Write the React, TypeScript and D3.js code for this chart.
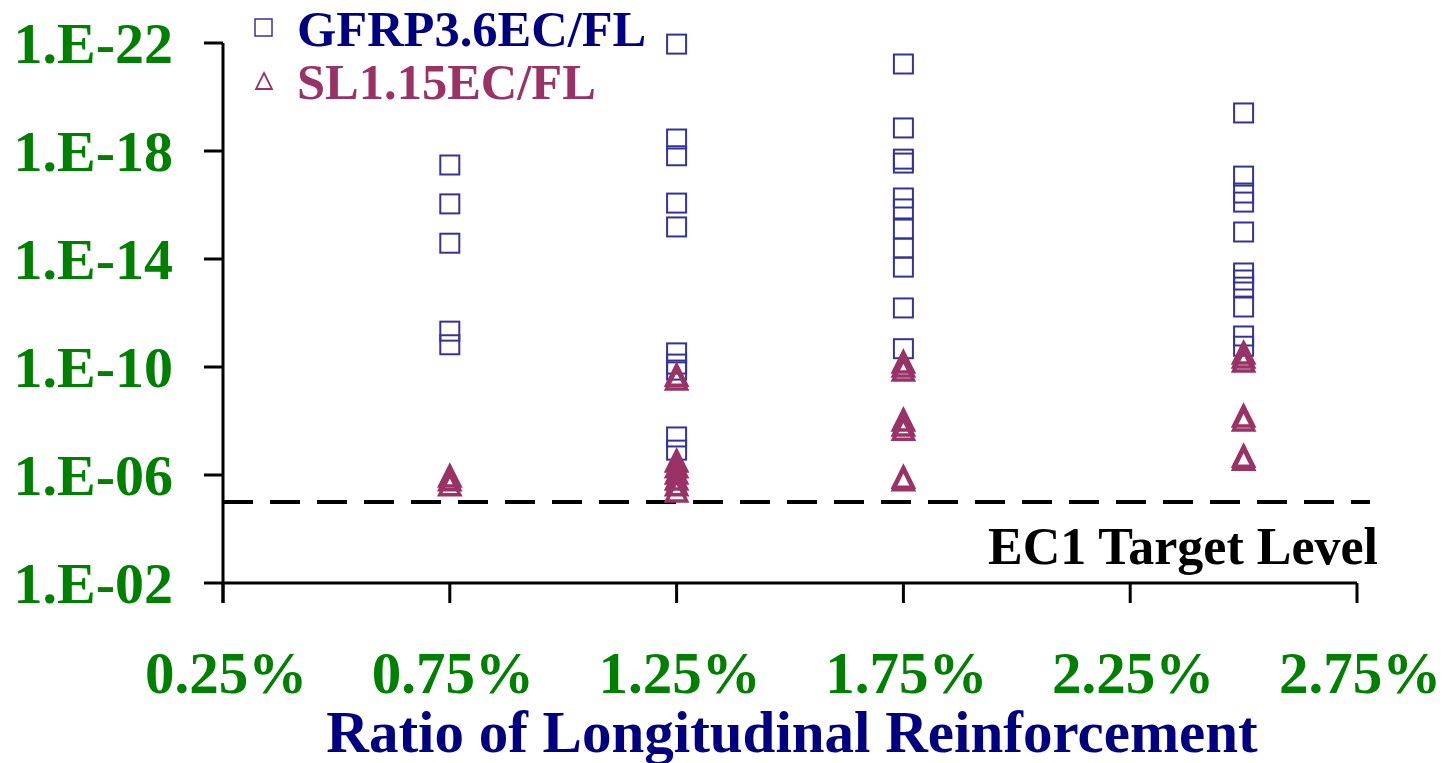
import React from "react";
import * as d3 from "d3";

const xTicks = [0.0025, 0.0075, 0.0125, 0.0175, 0.0225, 0.0275];
const yTicks = [1e-2, 1e-6, 1e-10, 1e-14, 1e-18, 1e-22];
const yTickLabels = ["1.E-02", "1.E-06", "1.E-10", "1.E-14", "1.E-18", "1.E-22"];
const targetLevel = 1e-5;

const gfrpX = [
  0.0075, 0.0075, 0.0075, 0.0075, 0.0075,
  0.0125, 0.0125, 0.0125, 0.0125, 0.0125, 0.0125, 0.0125, 0.0125, 0.0125, 0.0125,
  0.0175, 0.0175, 0.0175, 0.0175, 0.0175, 0.0175, 0.0175, 0.0175, 0.0175, 0.0175, 0.0175,
  0.025, 0.025, 0.025, 0.025, 0.025, 0.025, 0.025, 0.025, 0.025, 0.025, 0.025,
];
const gfrpY = [
  3.3e-18, 9.1e-17, 2.6e-15, 4.7e-12, 1.5e-11,
  1.1e-22, 3.6e-19, 1.5e-18, 8.5e-17, 6.5e-16, 3.0e-11, 7.8e-11, 1.3e-10, 3.9e-8, 1.2e-7,
  6.0e-22, 1.4e-19, 2.0e-18, 2.8e-18, 5.5e-17, 1.4e-16, 7.8e-16, 3.9e-15, 2.0e-14, 6.5e-13, 2.1e-11,
  3.9e-20, 8.5e-18, 3.6e-17, 7.8e-17, 1.0e-15, 3.3e-14, 6.0e-14, 1.1e-13, 6.0e-13, 7.1e-12, 1.7e-11,
];

const slX = [
  0.0075, 0.0075, 0.0075,
  0.0125, 0.0125, 0.0125, 0.0125, 0.0125, 0.0125, 0.0125, 0.0125,
  0.0175, 0.0175, 0.0175, 0.0175, 0.0175, 0.0175, 0.0175, 0.0175,
  0.025, 0.025, 0.025, 0.025, 0.025, 0.025, 0.025,
];
const slY = [
  1.1e-6, 1.5e-6, 2.3e-6,
  2.0e-10, 2.8e-10, 3.0e-7, 5.0e-7, 8.5e-7, 1.4e-6, 2.3e-6, 3.9e-6,
  6.5e-11, 9.1e-11, 1.3e-10, 9.1e-9, 1.4e-8, 2.0e-8, 1.2e-6, 1.5e-6,
  3.0e-11, 4.3e-11, 6.0e-11, 6.5e-9, 9.1e-9, 2.0e-7, 2.6e-7,
];

const seriesNames = ["GFRP3.6EC/FL", "SL1.15EC/FL"];
const xTitle = "Ratio of Longitudinal Reinforcement";
const targetLabel = "EC1 Target Level";

const W = 1445;
const H = 763;
const FONT = "'Liberation Serif', 'Times New Roman', serif";
const GREEN = "#008000";
const NAVY = "#000080";
const SQ = "#333399";
const TRI = "#993366";

const x = d3.scaleLinear().domain([0.0025, 0.0275]).range([223, 1357]);
const y = d3.scaleLog().domain([1e-2, 1e-22]).range([583, 43]);

const triPath = (r: number) => `M0,${-r} L${r},${r} L${-r},${r} Z`;

export default function App() {
  return (
    <svg
      width={W}
      height={H}
      style={{ position: "absolute", left: 0, top: 0, background: "#fff" }}
      fontFamily={FONT}
    >
      {/* target dashed line */}
      <line
        x1={x(0.0025)}
        x2={1370}
        y1={y(targetLevel)}
        y2={y(targetLevel)}
        stroke="#000"
        strokeWidth={4}
        strokeDasharray="30,17"
      />
      {/* axes */}
      <line x1={x(0.0025)} x2={x(0.0025)} y1={y(1e-22)} y2={y(1e-2) + 20} stroke="#000" strokeWidth={3} />
      <line x1={x(0.0025)} x2={x(0.0275)} y1={y(1e-2)} y2={y(1e-2)} stroke="#000" strokeWidth={3} />
      {yTicks.map((t, i) => (
        <g key={"y" + i}>
          <line x1={x(0.0025) - 19} x2={x(0.0025)} y1={y(t)} y2={y(t)} stroke="#000" strokeWidth={3} />
          <text
            x={173}
            y={y(t)}
            dy="0.35em"
            textAnchor="end"
            fill={GREEN}
            fontWeight="bold"
            fontSize={58}
          >
            {yTickLabels[i]}
          </text>
        </g>
      ))}
      {xTicks.map((t, i) => (
        <g key={"x" + i}>
          <line x1={x(t)} x2={x(t)} y1={y(1e-2)} y2={y(1e-2) + 20} stroke="#000" strokeWidth={3} />
          <text
            x={x(t) + 3}
            y={693}
            textAnchor="middle"
            fill={GREEN}
            fontWeight="bold"
            fontSize={59}
          >
            {d3.format(".2%")(t)}
          </text>
        </g>
      ))}
      <text x={792} y={752} textAnchor="middle" fill={NAVY} fontWeight="bold" fontSize={59}>
        {xTitle}
      </text>
      <text x={1378} y={564} textAnchor="end" fill="#000" fontWeight="bold" fontSize={52}>
        {targetLabel}
      </text>

      {/* GFRP squares */}
      {gfrpX.map((xv, i) => (
        <rect
          key={"s" + i}
          x={x(xv) - 9.5}
          y={y(gfrpY[i]) - 9.5}
          width={19}
          height={19}
          fill="none"
          stroke={SQ}
          strokeWidth={2}
        />
      ))}
      {/* SL triangles */}
      {slX.map((xv, i) => (
        <path
          key={"t" + i}
          d={triPath(10)}
          transform={`translate(${x(xv)},${y(slY[i])})`}
          fill="none"
          stroke={TRI}
          strokeWidth={3.5}
        />
      ))}

      {/* legend */}
      <rect x={255} y={19} width={17} height={17} fill="none" stroke={SQ} strokeWidth={1.5} />
      <text x={297} y={46} fill={NAVY} fontWeight="bold" fontSize={50.5}>
        {seriesNames[0]}
      </text>
      <path d={triPath(8)} transform="translate(264,81)" fill="none" stroke={TRI} strokeWidth={1.8} />
      <text x={297} y={99} fill={TRI} fontWeight="bold" fontSize={50.5}>
        {seriesNames[1]}
      </text>
    </svg>
  );
}
